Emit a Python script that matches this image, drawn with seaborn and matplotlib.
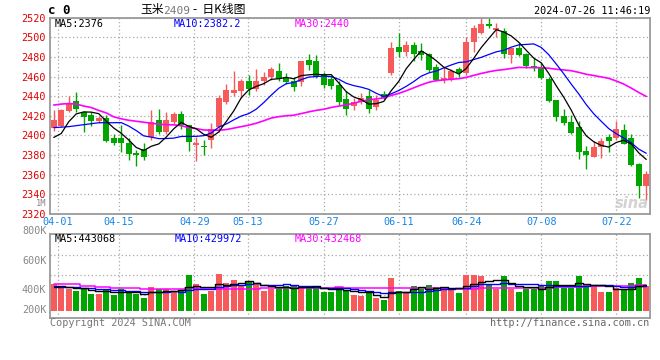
import numpy as np
import pandas as pd
import matplotlib
matplotlib.use("Agg")
import matplotlib.pyplot as plt
import seaborn as sns

# ---------------- data ----------------
opens = [2408, 2410, 2425, 2435, 2424, 2421, 2415, 2418, 2397, 2397,
         2392, 2382.5, 2386, 2398, 2416, 2404, 2414, 2422, 2411, 2390,
         2389, 2395, 2409, 2434, 2443, 2445, 2455, 2447, 2456, 2460,
         2466, 2459, 2456, 2454, 2477, 2476, 2463, 2458, 2451, 2437,
         2430, 2434, 2440, 2429, 2442, 2464, 2490, 2485, 2492, 2486,
         2482.6, 2470, 2456.5, 2457.5, 2468, 2464, 2495, 2504, 2514, 2507,
         2506, 2482, 2489, 2483, 2471, 2470, 2458, 2436, 2420, 2414,
         2408.5, 2384, 2378.5, 2388.5, 2398, 2397, 2406, 2397, 2371, 2349]
highs = [2426, 2427, 2440, 2444, 2425, 2424, 2420, 2421, 2401, 2411,
         2397, 2385, 2392, 2426, 2427, 2424, 2424, 2425, 2411, 2398,
         2395, 2413, 2441, 2452, 2466, 2458, 2462, 2468, 2465, 2470,
         2474, 2464, 2460, 2476, 2483, 2482, 2465, 2461, 2455, 2445,
         2438, 2443, 2446, 2441, 2445, 2495, 2504, 2496, 2495, 2494,
         2484, 2473, 2470, 2468, 2470, 2500, 2513, 2520, 2520, 2515,
         2510, 2489, 2494, 2484, 2479, 2474, 2460, 2436, 2427, 2421,
         2415, 2389, 2394, 2397, 2402, 2415, 2412, 2402, 2372, 2364]
lows = [2405, 2409, 2424, 2424, 2404, 2410, 2413, 2393, 2390, 2383,
        2375, 2369, 2375, 2395, 2401, 2401, 2412, 2407, 2384, 2374,
        2380, 2387, 2404, 2432, 2440, 2438, 2441, 2445, 2451, 2457,
        2456, 2452, 2445, 2450, 2467, 2459, 2448, 2447, 2431, 2421,
        2426, 2432, 2423, 2426, 2437, 2462, 2480, 2481, 2476, 2477,
        2465, 2455, 2453, 2455, 2460, 2462, 2485, 2503, 2509, 2500,
        2479, 2474, 2481, 2469, 2466, 2458, 2434, 2415, 2411, 2401,
        2376, 2366, 2378, 2377, 2383, 2395, 2391, 2369, 2336, 2334]
closes = [2416, 2426, 2432, 2427, 2419, 2415, 2418, 2394, 2392, 2392,
          2381, 2380, 2378, 2414, 2404, 2416, 2422, 2411, 2393, 2392,
          2388, 2407, 2438, 2446, 2446, 2455, 2447, 2456, 2460, 2468,
          2458, 2454, 2449, 2476, 2472, 2461, 2451, 2450, 2434, 2427,
          2434, 2438, 2427, 2436, 2438.5, 2489, 2485, 2492, 2483, 2482,
          2467, 2457, 2459, 2466, 2464, 2495, 2509, 2514, 2512, 2509,
          2483, 2489, 2482, 2471, 2469, 2459, 2435, 2419, 2413, 2403,
          2383.5, 2380, 2388.5, 2394.5, 2394.5, 2407, 2391, 2370, 2349, 2361]
volumes_k = [457, 423, 371, 337, 394, 286, 286, 371, 269, 371,
             326, 286, 223, 406, 371, 371, 326, 337, 611, 457,
             286, 337, 629, 474, 526, 423, 486, 474, 337, 371,
             389, 423, 423, 423, 406, 406, 326, 326, 406, 354,
             269, 251, 297, 217, 183, 560, 337, 320, 423, 371,
             440, 406, 406, 354, 303, 611, 611, 594, 440, 371,
             594, 371, 320, 371, 371, 440, 509, 509, 389, 389,
             594, 423, 440, 320, 320, 389, 371, 474, 560, 417]

# moving-average values at the start of the window (history before the chart)
ma5_head = [2398, 2402, 2414, 2422]
ma10_head = [2408, 2408.5, 2409, 2410, 2411, 2412, 2413, 2413, 2413]
ma30_head = [2431, 2432, 2432.5, 2432, 2430, 2428.5, 2425.5, 2423, 2419, 2417,
             2415.5, 2414.5, 2413.5, 2412.5, 2411.5, 2411, 2410.8, 2410, 2408, 2407,
             2405.6, 2405.4, 2405.4, 2406, 2407.5, 2409, 2410.5, 2412.5, 2415]
vol_ma5_head_k = [412, 429, 400, 394]
vol_ma10_head_k = [429, 412, 412, 400, 383, 383, 366, 366, 354]
vol_ma30_head_k = [457, 457, 457, 457, 429, 429, 412, 412, 394, 394,
                   394, 394, 377, 377, 377, 377, 377, 377, 383, 383,
                   383, 383, 377, 377, 377, 377, 377, 380, 384]

# legend values as printed on the reference
price_ma_labels = ["MA5:2376", "MA10:2382.2", "MA30:2440"]
vol_ma_labels = ["MA5:443068", "MA10:429972", "MA30:432468"]

date_labels = ["04-01", "04-15", "04-29", "05-13", "05-27", "06-11", "06-24", "07-08", "07-22"]
title_code = "2409"
stamp = "2024-07-26 11:46:19"

# ---------------- derived ----------------
df = pd.DataFrame(dict(open=opens, high=highs, low=lows, close=closes))
df["vol"] = np.array(volumes_k, dtype=float) * 1000
df["i"] = np.arange(len(df))


def moving(series, n, head):
    r = series.rolling(n).mean()
    r.iloc[:len(head)] = head
    return r


df["ma5"] = moving(df["close"], 5, ma5_head)
df["ma10"] = moving(df["close"], 10, ma10_head)
df["ma30"] = moving(df["close"], 30, ma30_head)
df["vma5"] = moving(df["vol"], 5, np.array(vol_ma5_head_k) * 1000)
df["vma10"] = moving(df["vol"], 10, np.array(vol_ma10_head_k) * 1000)
df["vma30"] = moving(df["vol"], 30, np.array(vol_ma30_head_k) * 1000)

# ---------------- style ----------------
sns.set_style("white")
plt.rcParams["font.family"] = ["DejaVu Sans Mono", "Noto Sans CJK SC"]

RED = "#f65a5a"
GREEN = "#00a500"
GRID = "#a8a8a8"
FRAME = "#9a9a9a"

W, H = 660, 360
fig = plt.figure(figsize=(W / 100, H / 100), dpi=100)
fig.patch.set_facecolor("white")


def box(l, t, r, b):
    return [l / W, 1 - b / H, (r - l) / W, (b - t) / H]


axp = fig.add_axes(box(50, 17.7, 650, 214))
axv = fig.add_axes(box(50, 234.3, 650, 318.3))

grid_x = [0.55, 8.7, 18.75, 25.9, 36, 46, 55, 65, 75]

up = df["close"] >= df["open"]
colors = np.where(up, RED, GREEN)
body_bot = np.minimum(df["open"], df["close"])
body_h = np.maximum((df["close"] - df["open"]).abs(), 0.9)

# price panel
axp.vlines(df["i"], df["low"], df["high"], colors=colors, linewidth=1.0, zorder=2)
axp.bar(df["i"], body_h, bottom=body_bot, width=0.76, color=colors, linewidth=0, zorder=3)
sns.lineplot(x=df["i"], y=df["ma30"], ax=axp, color="#ff00ff", linewidth=1.2, zorder=4)
sns.lineplot(x=df["i"], y=df["ma10"], ax=axp, color="#0000ff", linewidth=0.9, zorder=5)
sns.lineplot(x=df["i"], y=df["ma5"], ax=axp, color="black", linewidth=0.9, zorder=6)

axp.set_xlim(-0.5, 79.5)
axp.set_ylim(2320, 2520)
axp.set_yticks(range(2320, 2521, 20))
axp.set_xticks(grid_x)
axp.set_xticklabels(date_labels)
axp.tick_params(axis="y", length=0, pad=3, labelcolor="#e00000", labelsize=7.3)
axp.tick_params(axis="x", length=0, pad=2.5, labelcolor="#1584e6", labelsize=7.3)
axp.set_xlabel("")
axp.set_ylabel("")
axp.grid(True, color=GRID, linestyle=(0, (1, 2)), linewidth=0.9)
for s in axp.spines.values():
    s.set_color(FRAME)
    s.set_linewidth(1.3)

# volume panel
axv.bar(df["i"], df["vol"], width=0.8, color=colors, linewidth=0, zorder=2)
sns.lineplot(x=df["i"], y=df["vma30"], ax=axv, color="#ff00ff", linewidth=1.1,
             drawstyle="steps-mid", zorder=3)
sns.lineplot(x=df["i"], y=df["vma10"], ax=axv, color="#0000ff", linewidth=1.0,
             drawstyle="steps-mid", zorder=4)
sns.lineplot(x=df["i"], y=df["vma5"], ax=axv, color="black", linewidth=1.0,
             drawstyle="steps-mid", zorder=5)
axv.set_xlim(-0.5, 79.5)
axv.set_ylim(-130000, 1310000)
axv.set_yticks([269000, 612000, 955000])
axv.set_yticklabels([])
axv.set_xticks(grid_x)
axv.set_xticklabels([])
axv.tick_params(length=0)
axv.set_xlabel("")
axv.set_ylabel("")
axv.grid(True, color=GRID, linestyle=(0, (1, 2)), linewidth=0.9)
for s in axv.spines.values():
    s.set_color(FRAME)
    s.set_linewidth(1.3)


def ftext(x, y, s, **kw):
    kw.setdefault("va", "center")
    kw.setdefault("fontsize", 7.3)
    fig.text(x / W, 1 - y / H, s, **kw)


# header
ftext(48, 11, "c 0", fontsize=9, fontweight="bold", color="black")
ftext(140, 10, "玉米", family=["Noto Sans CJK SC"], fontsize=8.5, color="black")
ftext(163, 11, title_code, fontsize=8, color="#777777")
ftext(193, 10, "-  日K线图", family=["Noto Sans CJK SC"], fontsize=8.5, color="black")
ftext(650, 11, stamp, ha="right", fontsize=7.3, color="black")

# MA labels
ma_colors = ["black", "#0000ff", "#ff00ff"]
for lab, xx, c in zip(price_ma_labels, [55, 174, 295], ma_colors):
    ftext(xx, 24, lab, color=c)
for lab, xx, c in zip(vol_ma_labels, [55, 175, 295], ma_colors):
    ftext(xx, 238.5, lab, color=c)

# side labels
ftext(46.5, 203.8, "1M", ha="right", fontsize=6.3, color="#888888")
for lab, yy in [("800K", 231), ("600K", 260.7), ("400K", 290), ("200K", 310)]:
    ftext(46.5, yy, lab, ha="right", color="#888888")

# footer
ftext(50, 323.5, "Copyright 2024 SINA.COM", color="#777777")
ftext(649, 323.5, "http://finance.sina.com.cn", ha="right", color="#666666")

# watermark
ftext(632, 203, "sina", ha="center", fontsize=10.5, fontweight="bold", style="italic",
      color="#c8c8c8", alpha=0.8, family=["DejaVu Sans"])

fig.savefig("out.png", dpi=100, facecolor="white")
